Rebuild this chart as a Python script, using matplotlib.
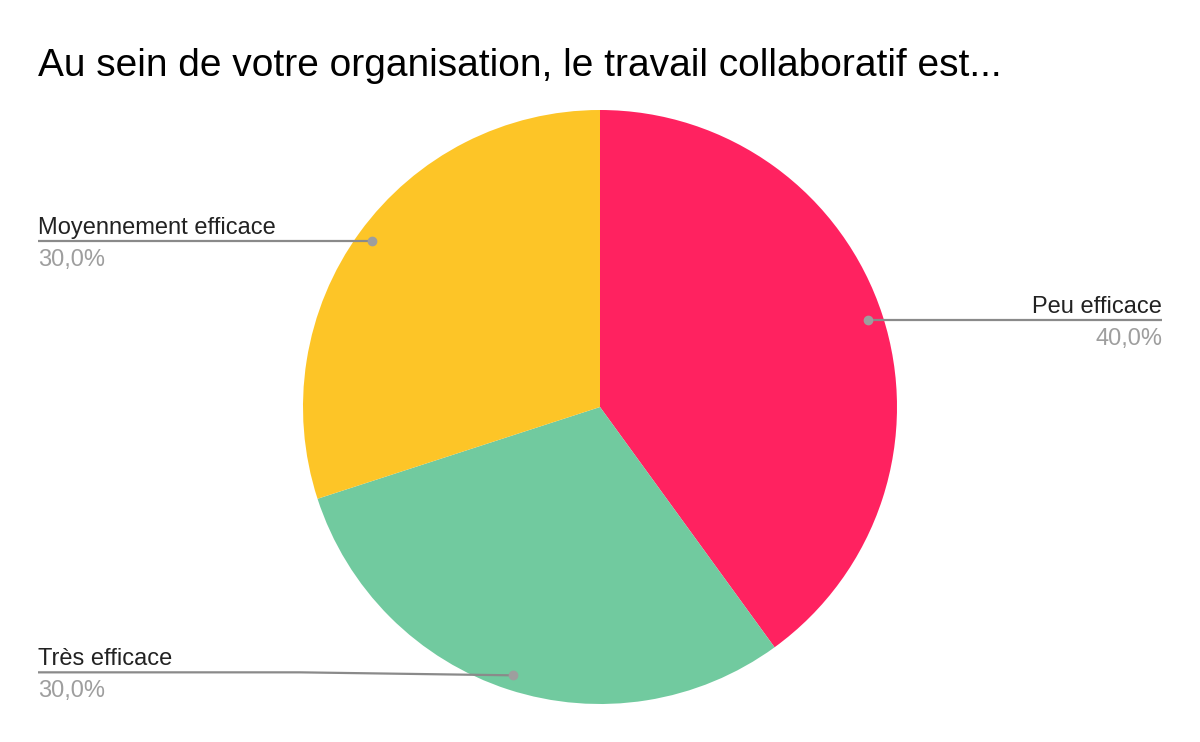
import numpy as np
import matplotlib.pyplot as plt

plt.rcParams['font.family'] = ['Liberation Sans', 'DejaVu Sans']

title = "Au sein de votre organisation, le travail collaboratif est..."
labels = ["Peu efficace", "Très efficace", "Moyennement efficace"]
values = [40.0, 30.0, 30.0]
colors = ["#FF2260", "#71CA9F", "#FDC527"]

W, H = 1200, 742
fig = plt.figure(figsize=(W / 100, H / 100), dpi=100)
ax = fig.add_axes([0, 0, 1, 1])

cx, cy, r = 600, H - 407, 297
ax.pie(values, colors=colors, startangle=90, counterclock=False,
       center=(cx, cy), radius=r, wedgeprops=dict(linewidth=0),
       frame=True)
ax.set_xlim(0, W)
ax.set_ylim(0, H)
ax.set_aspect("equal")
ax.axis("off")

fig.text(38 / W, 1 - 76 / H, title, fontsize=28, va="baseline", ha="left", color="black")

total = sum(values)
start = 90.0
for lab, val in zip(labels, values):
    span = 360.0 * val / total
    mid = np.deg2rad(start - span / 2)
    start -= span
    px = cx + 0.95 * r * np.cos(mid)
    py = cy + 0.95 * r * np.sin(mid)
    if np.cos(mid) >= 0:
        xe, ha = 1162, "right"
        xs, ys = [px, xe], [py, py]
        ly = py
    else:
        xe, ha = 38, "left"
        if np.sin(mid) < -0.5:
            ly = py + 3
            xs, ys = [px, 300, xe], [py, ly, ly]
        else:
            ly = py
            xs, ys = [px, xe], [py, py]
    ax.plot(xs, ys, color="#8a8a8a", lw=1.6, solid_capstyle="butt", zorder=3)
    ax.plot([px], [py], "o", color="#9e9e9e", ms=6, zorder=4)
    ax.text(xe, ly + 7, lab, fontsize=17, ha=ha, va="baseline", color="#222222")
    pct = f"{100 * val / total:.1f}%".replace(".", ",")
    ax.text(xe, ly - 25, pct, fontsize=17, ha=ha, va="baseline", color="#9e9e9e")

fig.savefig("out.png", dpi=100)
